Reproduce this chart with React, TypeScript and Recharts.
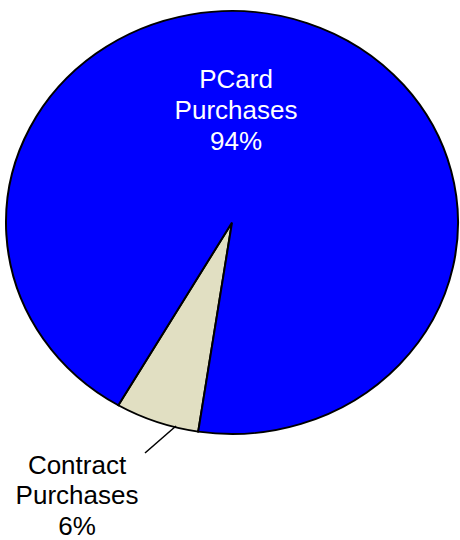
import React from "react"
import { PieChart, Pie, Cell } from "recharts"

const categories = ["Contract Purchases", "PCard Purchases"]
const shares = [6, 94]
const labelLines = [
  ["Contract", "Purchases", "6%"],
  ["PCard", "Purchases", "94%"],
]
const sliceColors = ["#E1DFC2", "#0000FF"]

const data = categories.map((name, i) => ({ name, value: shares[i] }))

// the original pie is a slightly squashed ellipse
const PAD = 20
const CX = 232
const CY = 222.5 + PAD
const RX = 226
const K = 211.5 / 226

const font = "'Liberation Sans', Arial, sans-serif"

function toSvgY(cy: number, dy: number) {
  return cy + dy / K
}

function renderLabel(props: any) {
  const cx = props.cx ?? CX
  const cy = props.cy ?? CY
  const index = props.index
  const lines = labelLines[index]
  if (index === 1) {
    return (
      <g transform={`translate(${cx + 4}, ${toSvgY(cy, -134.5)}) scale(1, ${1 / K})`}>
        <text textAnchor="middle" fill="#fff" fontSize={26} fontFamily={font}>
          {lines.map((l, i) => (
            <tspan key={l} x={0} dy={i === 0 ? 0 : 31}>
              {l}
            </tspan>
          ))}
        </text>
      </g>
    )
  }
  return (
    <g>
      <line
        x1={cx - 87}
        y1={toSvgY(cy, 230.5)}
        x2={cx - 56}
        y2={toSvgY(cy, 203.5)}
        stroke="#000"
        strokeWidth={1.5}
      />
      <g transform={`translate(${cx - 155}, ${toSvgY(cy, 251.5)}) scale(1, ${1 / K})`}>
        <text textAnchor="middle" fill="#000" fontSize={26} fontFamily={font}>
          {lines.map((l, i) => (
            <tspan key={l} x={0} dy={i === 0 ? 0 : 30.5}>
              {l}
            </tspan>
          ))}
        </text>
      </g>
    </g>
  )
}

export default function App() {
  return (
    <div
      style={{
        position: "absolute",
        left: 0,
        top: 0,
        width: 460,
        height: 540,
        overflow: "hidden",
        background: "#fff",
      }}
    >
      <div
        style={{
          position: "absolute",
          left: 0,
          top: -PAD,
          transform: `scaleY(${K})`,
          transformOrigin: `${CX}px ${CY}px`,
        }}
      >
        <PieChart width={460} height={640} margin={{ top: 0, right: 0, bottom: 0, left: 0 }}>
          <Pie
            data={data}
            dataKey="value"
            nameKey="name"
            cx={CX}
            cy={CY}
            outerRadius={RX}
            startAngle={239.8}
            endAngle={599.8}
            stroke="#000"
            strokeWidth={2}
            label={renderLabel}
            labelLine={false}
            isAnimationActive={false}
          >
            {data.map((d, i) => (
              <Cell key={d.name} fill={sliceColors[i]} />
            ))}
          </Pie>
        </PieChart>
      </div>
    </div>
  )
}
